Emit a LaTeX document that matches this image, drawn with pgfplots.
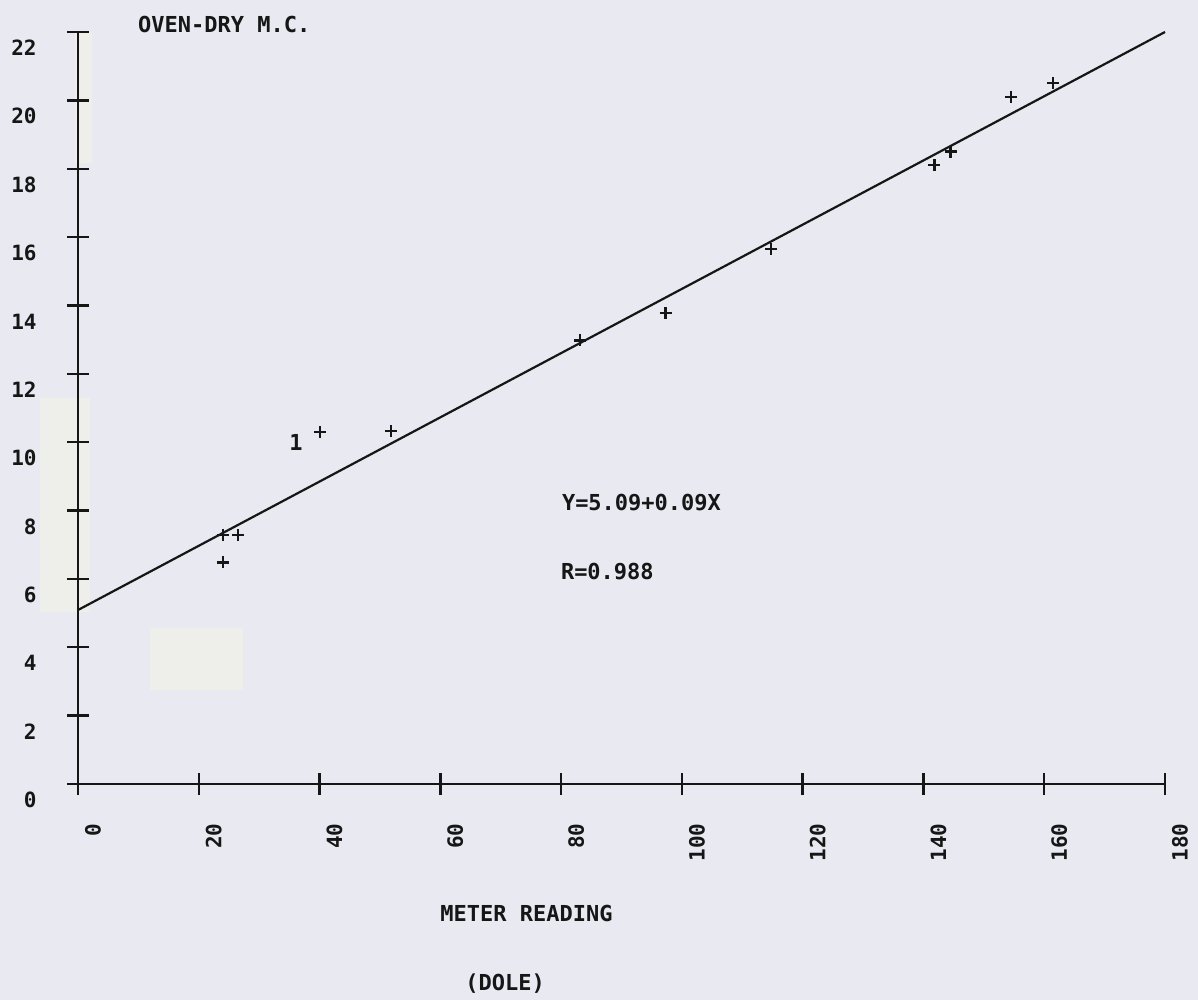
\documentclass[border=0pt]{standalone}
\usepackage{pgfplots}
\pgfplotsset{compat=1.18}
\usepackage{fontspec}
\setmainfont{DejaVu Sans Mono}

\definecolor{paper}{RGB}{233,233,242}
\definecolor{patch}{RGB}{238,238,235}
\definecolor{ink}{RGB}{22,22,22}

\begin{document}
\begin{tikzpicture}[x=1pt,y=1pt]
\useasboundingbox (-39,-108) rectangle (560,392);
\fill[paper] (-39,-108) rectangle (560,392);
% pale patches on the sheet
\fill[patch] (-1.5,376) rectangle (7,310.5);
\fill[patch] (-19,193) rectangle (6,86);
\fill[patch] (36,78) rectangle (82.5,47);

\begin{axis}[
  at={(0,0)}, anchor=south west,
  scale only axis, width=543.5pt, height=376pt,
  xmin=0, xmax=180, ymin=0, ymax=22,
  axis lines*=left,
  axis line style={line width=1.2pt, ink},
  tick align=center, major tick length=11pt,
  major tick style={line width=1.2pt, ink},
  xtick={0,20,...,180}, ytick={0,2,...,22},
  /pgf/number format/assume math mode=true,
  tick label style={font=\bfseries\fontsize{10.5}{12}\selectfont, text=ink, inner sep=0pt},
  yticklabel style={anchor=east, xshift=-15pt, yshift=-8pt},
  xticklabel style={xshift=7.5pt, yshift=-14pt, rotate=90, anchor=east},
  clip=false,
]
% regression line
\addplot[ink, line width=1.1pt] coordinates {(0,5.09) (180,22.0)};
% readings
\addplot[only marks, mark=+, mark size=3pt, mark options={line width=1.2pt, ink}]
  coordinates {
  (24.0,6.48) (24.0,7.29) (26.5,7.29) (40.1,10.29) (51.8,10.32)
  (83.1,12.98) (97.3,13.78) (114.8,15.66) (141.8,18.1) (144.5,18.5)
  (154.5,20.1) (161.5,20.5)
  };
\node[font=\bfseries\fontsize{11}{13}\selectfont, text=ink] at (axis cs:36.1,9.98) {1};
\end{axis}

\begin{scope}[every node/.style={font=\bfseries\fontsize{11}{13}\selectfont, text=ink, inner sep=0pt, anchor=base west}]
\node at (29.9,375.9) {OVEN-DRY M.C.};
\node at (241.8,136.7) {Y=5.09+0.09X};
\node at (241.3,102.3) {R=0.988};
\node at (181,-68.8) {METER READING};
\node at (193.5,-103) {(DOLE)};
\end{scope}
\end{tikzpicture}
\end{document}
